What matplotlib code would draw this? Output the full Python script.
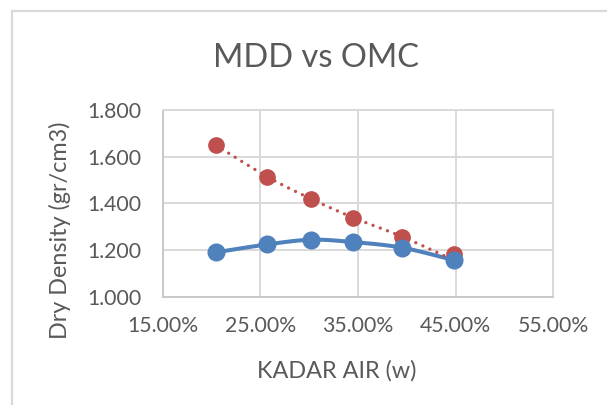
import matplotlib
matplotlib.use('Agg')
import matplotlib.pyplot as plt, numpy as np
from matplotlib.lines import Line2D
from matplotlib.ticker import FuncFormatter

plt.rcParams['font.family'] = ['Lato', 'DejaVu Sans']
GRAY_TXT = '#595959'; GRID = '#D9D9D9'; BLUE = '#4F81BD'; RED = '#C0504D'

# data
kadar_air = [0.2042, 0.2571, 0.3021, 0.3450, 0.3953, 0.4478]
dry_density = [1.190, 1.224, 1.244, 1.234, 1.210, 1.157]      # blue, smooth line
zav_points = [1.650, 1.514, 1.419, 1.339, 1.257, 1.182]       # red markers
zav_line = [1.650, 1.514, 1.419, 1.339, 1.257, 1.157]         # red dotted line
y_ticks = [1.0, 1.2, 1.4, 1.6, 1.8]
x_ticks = [0.15, 0.25, 0.35, 0.45, 0.55]


def smooth(x, y, n=20, t=0.5):
    # Excel-like smoothed line (Catmull-Rom segments) for display only
    x = np.asarray(x, float); y = np.asarray(y, float)
    px = np.concatenate([[x[0]], x, [x[-1]]]); py = np.concatenate([[y[0]], y, [y[-1]]])
    xs, ys = [], []
    for i in range(1, len(px) - 2):
        p0, p1, p2, p3 = [np.array([px[j], py[j]]) for j in (i - 1, i, i + 1, i + 2)]
        c1 = p1 + (p2 - p0) * t / 3; c2 = p2 - (p3 - p1) * t / 3
        s = np.linspace(0, 1, n)[:, None]
        b = (1 - s)**3 * p1 + 3 * (1 - s)**2 * s * c1 + 3 * (1 - s) * s**2 * c2 + s**3 * p2
        xs.extend(b[:, 0]); ys.extend(b[:, 1])
    return xs, ys


fig = plt.figure(figsize=(6.07, 4.05), dpi=100)
ax = fig.add_axes([162.7/607, 1 - 296.7/405, 390.6/607, 186.7/405])

sx, sy = smooth(kadar_air, dry_density)
ax.plot(kadar_air, zav_points, ls='none', marker='o', ms=11, color=RED, zorder=3)
ax.plot(sx, sy, color=BLUE, lw=2.9, solid_capstyle='round', zorder=3.5)
rx, ry = smooth(kadar_air, zav_line)
ax.plot(rx, ry, color=RED, lw=2.4, dashes=(0.01, 2.3), dash_capstyle='round', zorder=4)
ax.plot(kadar_air, dry_density, ls='none', marker='o', ms=12, color=BLUE, zorder=5)

ax.set_xlim(0.15, 0.55); ax.set_ylim(1.0, 1.8)
ax.set_xticks(x_ticks); ax.set_yticks(y_ticks)
ax.xaxis.set_major_formatter(FuncFormatter(lambda v, p: f'{v*100:.2f}%'))
ax.yaxis.set_major_formatter(FuncFormatter(lambda v, p: f'{v:.3f}'))
ax.grid(True, color=GRID, lw=1.4)
ax.set_axisbelow(True)
ax.tick_params(length=0, labelsize=15.3, labelcolor=GRAY_TXT)
ax.tick_params(axis='y', pad=15)
ax.tick_params(axis='x', pad=14)
for s in ax.spines.values():
    s.set_color(GRID); s.set_linewidth(1.4)
ax.spines['left'].set_color('#C8C8C8'); ax.spines['bottom'].set_color('#C8C8C8')

fig.text(316/607, 1 - 58/405, 'MDD vs OMC', ha='center', va='center', fontsize=23.5, color=GRAY_TXT)
fig.text(337/607, 1 - 371/405, 'KADAR AIR (w)', ha='center', va='center', fontsize=16.8, color=GRAY_TXT)
fig.text(60/607, 1 - 230/405, 'Dry Density (gr/cm3)', ha='center', va='center', rotation=90,
         fontsize=16.8, color=GRAY_TXT)

# chart area border (only top and left visible in the crop)
fig.add_artist(Line2D([12/607, 12/607], [0, 1 - 11/405], color=GRID, lw=1.6))
fig.add_artist(Line2D([12/607, 1], [1 - 11/405, 1 - 11/405], color=GRID, lw=1.6))

fig.savefig('out.png', dpi=100)
